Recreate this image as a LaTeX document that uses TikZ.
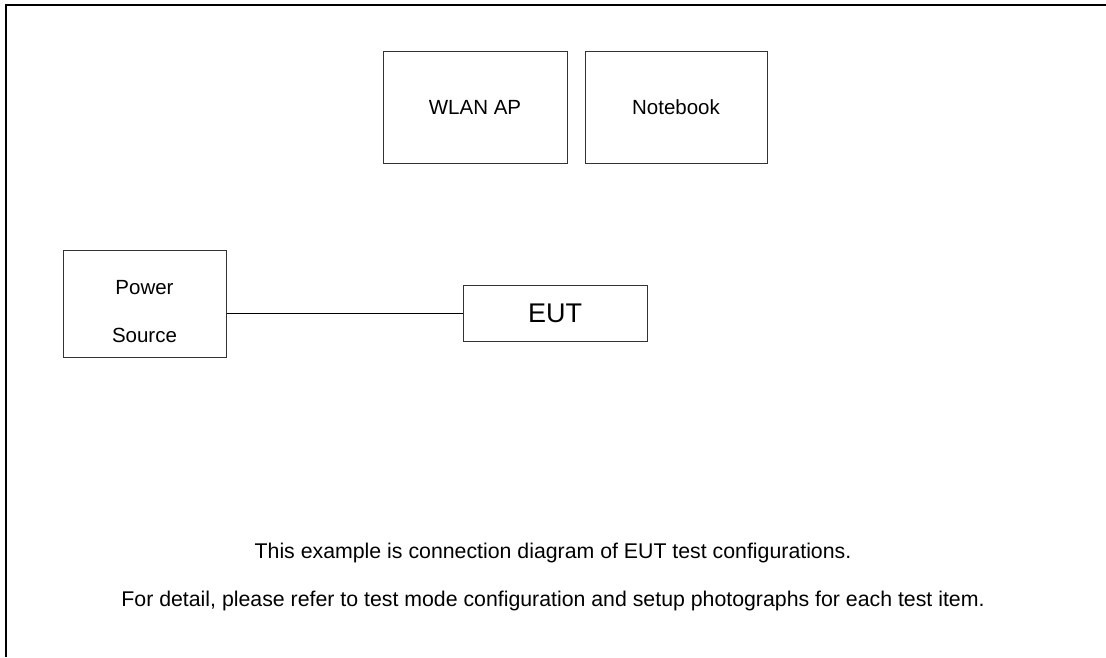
\documentclass[tikz,border=0pt]{standalone}
\usepackage{fontspec}
\setmainfont{Liberation Sans}
\usetikzlibrary{positioning}

\begin{document}
\begin{tikzpicture}[x=1pt,y=-1pt]
\tikzstyle{unit}=[rectangle, draw=black!80, line width=1pt, inner sep=0pt,
	font=\fontsize{20.5}{24}\selectfont
]
\tikzstyle{note}=[inner sep=0pt, anchor=base, font=\fontsize{21.3}{25}\selectfont]
\useasboundingbox (0,0) rectangle (1106,657);
\draw[line width=2pt] (6,657) -- (6,5) -- (1106,5);
\node[unit, minimum width=184, minimum height=112] (ap) at (475,107) { WLAN AP };
\node[unit, minimum width=182, minimum height=112] (nb) at (676,107) { Notebook };
\node[unit, minimum width=163, minimum height=107] (ps) at (144.5,303.5) {};
\node[align=center, inner sep=0pt, font=\fontsize{20.5}{48}\selectfont]
	(pstext) at (144.5,312) { Power\\Source };
\node[unit, minimum width=184, minimum height=56,
	font=\fontsize{27}{30}\selectfont] (eut) at (555,313) { EUT };
\draw[line width=1pt] (eut.west -| ps.east) -- (eut.west) ;
\node[note] (note1) at (553,558)
	{This example is connection diagram of EUT test configurations.};
\node[note] (note2) at (553,606)
	{For detail, please refer to test mode configuration and setup photographs for each test item.};
\end{tikzpicture}
\end{document}
